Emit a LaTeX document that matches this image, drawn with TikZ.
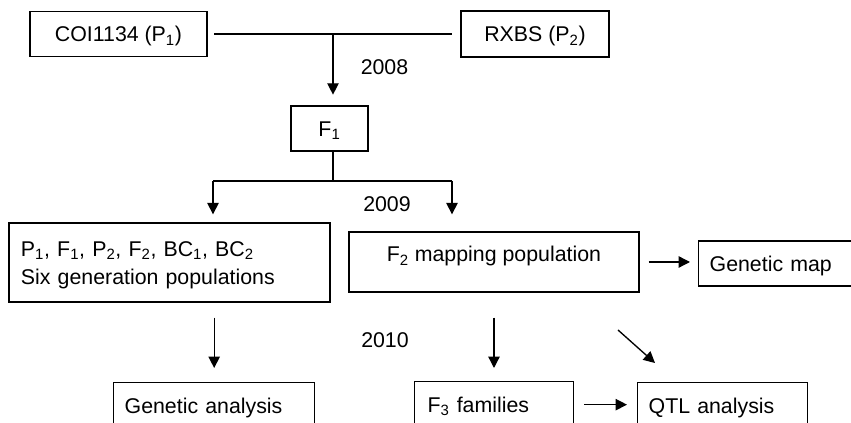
\documentclass[tikz,border=0pt]{standalone}
\usepackage{fontspec}
\setmainfont{Liberation Sans}
\usetikzlibrary{arrows.meta}

\begin{document}
\begin{tikzpicture}[x=0.75pt, y=-0.75pt, line width=1pt,
  font=\fontsize{16}{21}\selectfont,
  box/.style={draw, inner sep=0pt, text height=11.5pt, text depth=0pt},
  lbox/.style={box, align=left, anchor=north west, minimum height=34.5pt},
  arr/.style={-{Triangle[width=8.5pt,length=8.5pt]}}]

\useasboundingbox (0,0) rectangle (851,423);
\clip (0,0) rectangle (851,423);

% Parents
\node (p1) at (118.5,34) [box, minimum width=132.75pt, minimum height=33.75pt] {COI1134 (P\textsubscript{1})};
\node (p2) at (535,34) [box, minimum width=111pt, minimum height=34.5pt] {RXBS (P\textsubscript{2})};
\node (f1) at (329.5,128.5) [box, minimum width=57.75pt, minimum height=33.75pt] {F\textsubscript{1}};

% Populations
\node (six) at (169.5,262.5) [box, align=left, text width=222.75pt, inner xsep=9pt, minimum height=59.25pt, text depth=21pt]
  {P\textsubscript{1}, F\textsubscript{1}, P\textsubscript{2}, F\textsubscript{2}, BC\textsubscript{1}, BC\textsubscript{2}\\Six generation populations};
\node (f2) at (494,262) [box, minimum width=217.5pt, minimum height=45pt, text depth=11.5pt] {F\textsubscript{2} mapping population};
\node (gmap) at (698,263.5) [lbox, anchor=west, text width=103.5pt, inner xsep=8.25pt, minimum height=33.75pt] {Genetic map};

% Results
\node (ganal) at (113,382) [lbox, text width=134.25pt, inner xsep=8.25pt] {Genetic analysis};
\node (f3) at (414,381) [lbox, text width=99.75pt, inner xsep=9.75pt] {F\textsubscript{3} families};
\node (qtl) at (637,382) [lbox, text width=111pt, inner xsep=8.25pt] {QTL analysis};

% Years
\node (y08) at (384.5,67) {2008};
\node (y09) at (387,204) {2009};
\node (y10) at (385,340) {2010};

% Crosses
\coordinate (cross) at (333,34);
\coordinate (split) at (333,181);
\coordinate (sl) at (213,181);
\coordinate (sr) at (452,181);
\draw [shorten <=5pt, shorten >=6pt] (p1) -- (p2);
\draw [arr, shorten >=8pt] (cross) -- (cross |- f1.north);
\draw (f1.south -| cross) -- (split);
\draw (sl) -- (sr);
\draw [arr, shorten >=6pt] (sl) -- (sl |- six.north);
\draw [arr, shorten >=12.75pt] (sr) -- (sr |- f2.north);

% Analyses
\coordinate (d1) at (618,330);
\coordinate (d2) at (655,363);
\draw [arr, shorten <=11.25pt, shorten >=10.5pt] (ganal.north |- six.south) -- (ganal.north);
\draw [arr, shorten <=18.75pt, shorten >=9.75pt] (f2.south) -- (f2.south |- f3.north);
\draw [arr, shorten <=6.75pt, shorten >=6pt] (f2.east) -- (f2.east -| gmap.west);
\draw [arr] (d1) -- (d2);
\draw [arr, shorten <=7.5pt, shorten >=7.5pt] (f3.east) -- (f3.east -| qtl.west);

\end{tikzpicture}
\end{document}
